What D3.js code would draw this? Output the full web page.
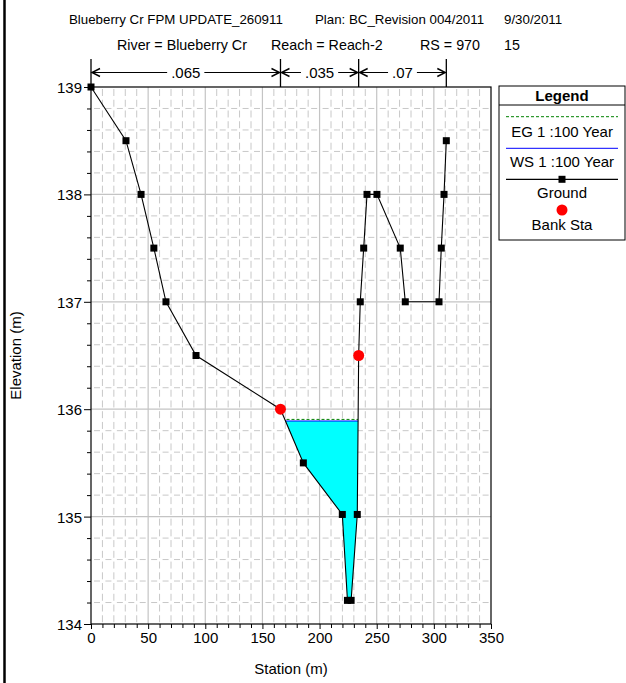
<!DOCTYPE html>
<html><head><meta charset="utf-8">
<script src="https://cdn.jsdelivr.net/npm/d3@7"></script>
<style>
body{margin:0;background:#fff}
svg{display:block}
text{font-family:"Liberation Sans",Arial,sans-serif;fill:#000}
</style>
</head><body>
<svg id="chart" width="626" height="683"></svg>
<script>
// ---- data ----
const groundStations  = [0, 30.6, 43.8, 55, 65.6, 91.9, 165.8, 185.8, 219.9, 224.4, 227.6, 233.0, 234.2, 235.6, 238.6, 241.5, 250.2, 270.6, 275.0, 304.5, 306.5, 308.9, 310.9];
const groundElevations= [139, 138.5, 138, 137.5, 137, 136.5, 136.0, 135.5, 135.02, 134.22, 134.22, 135.02, 136.5, 137, 137.5, 138, 138, 137.5, 137, 137, 137.5, 138, 138.5];
const bankStations = [165.8, 234.2];
const bankElevations = [136.0, 136.5];
const wsElevation = 135.89;
const egElevation = 135.905;
const nValues = [".065", ".035", ".07"];
const nBreaks = [0, 165.8, 234.2, 310.9];
const xTicks = [0, 50, 100, 150, 200, 250, 300, 350];
const yTicks = [134, 135, 136, 137, 138, 139];
const titleLine1 = ["Blueberry Cr FPM UPDATE_260911", "Plan: BC_Revision 004/2011", "9/30/2011"];
const titleLine2 = ["River = Blueberry Cr", "Reach = Reach-2", "RS = 970", "15"];
const legendItems = ["EG 1 :100 Year", "WS 1 :100 Year", "Ground", "Bank Sta"];

// ---- layout ----
const svg = d3.select("#chart");
const L = 91, R = 491, T = 87, B = 624;
const x = d3.scaleLinear().domain([0, 350]).range([L, R]);
const y = d3.scaleLinear().domain([134, 139]).range([B, T]);

svg.append("rect").attr("width", 626).attr("height", 683).attr("fill", "#fff");
// left page border
svg.append("line").attr("x1", 4.5).attr("x2", 4.5).attr("y1", 0).attr("y2", 683)
  .attr("stroke", "#000").attr("stroke-width", 2.5);

// titles
const t1x = [69, 315, 504], t2x = [117, 271, 420, 504];
titleLine1.forEach((t, i) => svg.append("text").attr("x", t1x[i]).attr("y", 24).attr("font-size", 13.3).text(t));
titleLine2.forEach((t, i) => svg.append("text").attr("x", t2x[i]).attr("y", 50).attr("font-size", 14.3).text(t));

// grid
const g = svg.append("g");
const minorX = d3.range(10, 350, 10).filter(v => v % 50 !== 0);
const minorY = d3.range(134.2, 139, 0.2).filter(v => Math.abs(v - Math.round(v)) > 0.01);
g.selectAll(".vmin").data(minorX).enter().append("line")
  .attr("x1", d => x(d)).attr("x2", d => x(d)).attr("y1", T).attr("y2", B)
  .attr("stroke", "#c8c8c8").attr("stroke-width", 1).attr("stroke-dasharray", "7,3.74").attr("stroke-dashoffset", -2);
g.selectAll(".hmin").data(minorY).enter().append("line")
  .attr("x1", L).attr("x2", R).attr("y1", d => y(d)).attr("y2", d => y(d))
  .attr("stroke", "#c8c8c8").attr("stroke-width", 1).attr("stroke-dasharray", "6,5.43").attr("stroke-dashoffset", -3);
g.selectAll(".vmaj").data(xTicks.slice(1, -1)).enter().append("line")
  .attr("x1", d => x(d)).attr("x2", d => x(d)).attr("y1", T).attr("y2", B)
  .attr("stroke", "#c4c4c4").attr("stroke-width", 1.2);
g.selectAll(".hmaj").data(yTicks.slice(1, -1)).enter().append("line")
  .attr("x1", L).attr("x2", R).attr("y1", d => y(d)).attr("y2", d => y(d))
  .attr("stroke", "#c4c4c4").attr("stroke-width", 1.2);

// water fill
function wetPolygon(ws) {
  const pts = [];
  for (let i = 0; i < groundStations.length - 1; i++) {
    const s0 = groundStations[i], e0 = groundElevations[i];
    const s1 = groundStations[i + 1], e1 = groundElevations[i + 1];
    if (e0 < ws) pts.push([s0, e0]);
    if ((e0 - ws) * (e1 - ws) < 0) {
      const t = (ws - e0) / (e1 - e0);
      pts.push([s0 + t * (s1 - s0), ws]);
    }
  }
  return pts;
}
const wet = wetPolygon(wsElevation);
svg.append("path").attr("d", d3.line().x(d => x(d[0])).y(d => y(d[1]))(wet) + "Z")
  .attr("fill", "#00ffff").attr("stroke", "none");
const wsL = wet[0][0], wsR = wet[wet.length - 1][0];
svg.append("line").attr("x1", x(wsL)).attr("x2", x(wsR)).attr("y1", y(wsElevation)).attr("y2", y(wsElevation))
  .attr("stroke", "#0000ff").attr("stroke-width", 1);
svg.append("line").attr("x1", x(wsL) + 1).attr("x2", x(wsR)).attr("y1", y(egElevation)).attr("y2", y(egElevation))
  .attr("stroke", "#008000").attr("stroke-width", 1).attr("stroke-dasharray", "3,2");

// frame
svg.append("rect").attr("x", L).attr("y", T).attr("width", R - L).attr("height", B - T)
  .attr("fill", "none").attr("stroke", "#000").attr("stroke-width", 1.2);

// axes
const axY = svg.append("g").attr("transform", `translate(${L},0)`)
  .call(d3.axisLeft(y).tickValues(yTicks).tickSize(7).tickPadding(2).tickFormat(d3.format("d")));
const axYm = svg.append("g").attr("transform", `translate(${L},0)`)
  .call(d3.axisLeft(y).tickValues(minorY).tickSize(4).tickFormat(""));
const axX = svg.append("g").attr("transform", `translate(0,${B})`)
  .call(d3.axisBottom(x).tickValues(xTicks).tickSize(5).tickPadding(3).tickFormat(d3.format("d")));
const axXm = svg.append("g").attr("transform", `translate(0,${B})`)
  .call(d3.axisBottom(x).tickValues(minorX).tickSize(4).tickFormat(""));
[axY, axYm, axX, axXm].forEach(a => {
  a.select(".domain").remove();
  a.selectAll("line").attr("stroke", "#000");
  a.selectAll("text").attr("font-size", 15).attr("font-family", "Liberation Sans, Arial, sans-serif").attr("fill", "#000");
});
axY.selectAll("text").attr("dy", "0.36em");

// axis titles
svg.append("text").attr("transform", `translate(21,${(T + B) / 2}) rotate(-90)`).attr("text-anchor", "middle")
  .attr("font-size", 15).text("Elevation (m)");
svg.append("text").attr("x", (L + R) / 2).attr("y", 674).attr("text-anchor", "middle")
  .attr("font-size", 15).text("Station (m)");

// ground line
const ground = groundStations.map((s, i) => [s, groundElevations[i]]);
svg.append("path").attr("d", d3.line().x(d => x(d[0])).y(d => y(d[1]))(ground))
  .attr("fill", "none").attr("stroke", "#000").attr("stroke-width", 1.1);
const isBank = (s) => bankStations.includes(s);
svg.selectAll(".gm").data(ground.filter(d => !isBank(d[0]))).enter().append("rect")
  .attr("x", d => x(d[0]) - 3.5).attr("y", d => y(d[1]) - 3.5).attr("width", 7).attr("height", 7).attr("fill", "#000");
svg.selectAll(".bk").data(bankStations).enter().append("circle")
  .attr("cx", d => x(d)).attr("cy", (d, i) => y(bankElevations[i])).attr("r", 5.5).attr("fill", "#ff0000");

// Manning's n
const nTop = 59, nArrowY = 72.5;
svg.selectAll(".nl").data(nBreaks).enter().append("line")
  .attr("x1", d => x(d)).attr("x2", d => x(d)).attr("y1", nTop).attr("y2", T)
  .attr("stroke", "#000").attr("stroke-width", 1.3);
nValues.forEach((v, i) => {
  const a = x(nBreaks[i]) + 1, b = x(nBreaks[i + 1]) - 1, m = (a + b) / 2;
  const txt = svg.append("text").attr("x", m).attr("y", nArrowY + 5.5).attr("text-anchor", "middle")
    .attr("font-size", 15).text(v);
  const w = txt.node().getComputedTextLength() / 2 + 4;
  const ln = svg.append("g").attr("stroke", "#000").attr("stroke-width", 1).attr("fill", "none");
  ln.append("line").attr("x1", a).attr("x2", m - w).attr("y1", nArrowY).attr("y2", nArrowY);
  ln.append("line").attr("x1", m + w).attr("x2", b).attr("y1", nArrowY).attr("y2", nArrowY);
  ln.append("path").attr("d", `M${a + 8},${nArrowY - 4}L${a},${nArrowY}L${a + 8},${nArrowY + 4}`).attr("stroke-width", 1.4);
  ln.append("path").attr("d", `M${b - 8},${nArrowY - 4}L${b},${nArrowY}L${b - 8},${nArrowY + 4}`).attr("stroke-width", 1.4);
});

// legend
const lx0 = 499, lx1 = 625, ly0 = 86, ly1 = 240, lc = (lx0 + lx1) / 2;
svg.append("rect").attr("x", lx0).attr("y", ly0).attr("width", lx1 - lx0).attr("height", ly1 - ly0)
  .attr("fill", "#fff").attr("stroke", "#000").attr("stroke-width", 1);
svg.append("text").attr("x", lc).attr("y", 101).attr("text-anchor", "middle").attr("font-size", 15)
  .attr("font-weight", "bold").text("Legend");
svg.append("line").attr("x1", lx0).attr("x2", lx1).attr("y1", 105).attr("y2", 105).attr("stroke", "#000");
svg.append("line").attr("x1", 506).attr("x2", 618).attr("y1", 116.7).attr("y2", 116.7)
  .attr("stroke", "#008000").attr("stroke-dasharray", "3,2");
svg.append("line").attr("x1", 506).attr("x2", 618).attr("y1", 148.3).attr("y2", 148.3).attr("stroke", "#0000ff");
svg.append("line").attr("x1", 506).attr("x2", 618).attr("y1", 179.3).attr("y2", 179.3).attr("stroke", "#000").attr("stroke-width", 1.2);
svg.append("rect").attr("x", lc - 3.5).attr("y", 179.3 - 3.5).attr("width", 7).attr("height", 7).attr("fill", "#000");
svg.append("circle").attr("cx", lc).attr("cy", 210).attr("r", 5.5).attr("fill", "#ff0000");
const lty = [137, 167, 198, 229.5];
legendItems.forEach((t, i) => svg.append("text").attr("x", lc).attr("y", lty[i]).attr("text-anchor", "middle")
  .attr("font-size", 15).text(t));
</script>
</body></html>
